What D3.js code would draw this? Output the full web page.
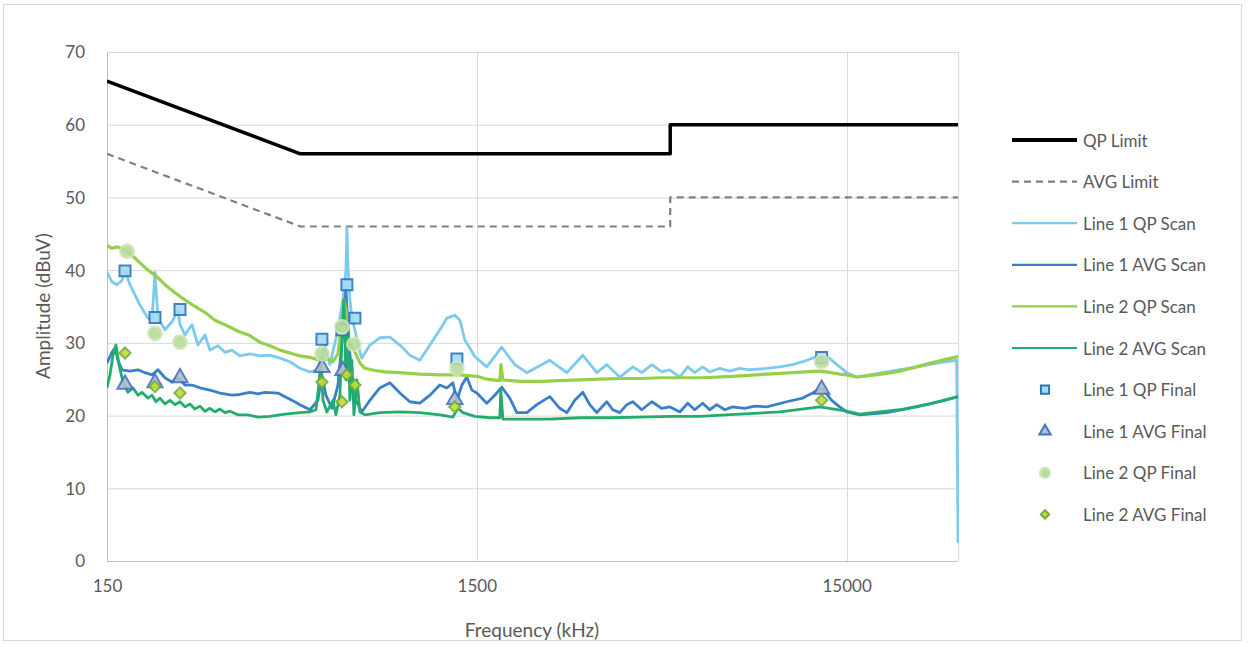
<!DOCTYPE html>
<html>
<head>
<meta charset="utf-8">
<script src="https://cdn.jsdelivr.net/npm/d3@7"></script>
<style>
  body { margin: 0; background: #fff; }
  text { font-family: Lato, "Open Sans", sans-serif; fill: #595959; }
</style>
</head>
<body>
<div id="chart"></div>
<script>
// frequency in kHz, amplitude in dBuV
var qpLimit = [[150, 66], [500, 56], [5000, 56], [5000, 60], [30000, 60]];
var avgLimit = [[150, 56], [500, 46], [5000, 46], [5000, 50], [30000, 50]];

var line1QpScan = [[150,39.7],[154.7,38.4],[159.6,38.0],[164.7,38.6],[167.8,40.0],[173,38.0],[184.2,35.2],[193.6,33.4],[198.5,33.1],[202.2,39.7],[206,33.4],[215.2,31.8],[224.8,32.9],[233.3,34.5],[236.3,32.5],[243.7,31.1],[254.6,32.5],[264.3,29.7],[276,31.1],[284.7,29.0],[299.3,29.6],[312.6,28.7],[326.5,29.0],[343.2,28.2],[365,28.5],[388.7,28.2],[413.6,28.3],[440.3,27.9],[468.6,27.4],[498.6,26.5],[530.7,26.0],[557.7,26.3],[582.6,29.7],[600.9,27.0],[631.7,31.8],[651.6,35.9],[663.9,40.0],[668,45.8],[672.2,40.7],[680.6,35.9],[689.1,33.4],[702.2,31.8],[715.4,29.7],[733,27.9],[770.7,29.7],[820,30.7],[873,30.8],[929,29.7],[988.8,28.3],[1052,27.6],[1120,29.7],[1191,31.8],[1245,33.4],[1308,33.8],[1350,33.1],[1392,30.4],[1436,29.3],[1482,28.1],[1596,26.7],[1752,29.4],[1900,27.0],[2048,25.9],[2363,27.6],[2627,25.9],[2901,28.3],[3165,25.9],[3369,27.0],[3652,25.3],[3962,26.7],[4188,25.9],[4458,27.0],[4743,26.0],[4986,26.3],[5306,25.3],[5577,26.7],[5824,25.9],[6121,26.7],[6393,26.0],[6806,26.5],[7243,26.1],[7707,26.5],[8202,26.3],[9118,26.5],[9885,26.7],[10719,27.0],[11694,27.6],[12444,28.1],[13450,27.9],[14361,26.7],[15000,25.9],[15960,25.3],[19245,26.0],[23190,26.7],[27615,27.4],[29750,27.6],[30000,2.5]];

var line1AvgScan = [[150,27.2],[154.7,28.7],[157.7,29.3],[160.6,27.6],[164.7,26.3],[173,26.1],[182,26.3],[190,25.9],[198.5,25.6],[206,26.3],[215.2,25.2],[224.8,24.6],[233.3,25.2],[243.7,24.2],[254.6,24.2],[267.6,23.8],[284.7,23.5],[303,23.1],[326.5,22.8],[343.2,22.9],[365,23.2],[383.9,23.0],[401,23.2],[434.9,23.1],[454.2,22.6],[474.3,22.1],[498.6,21.5],[530.7,20.8],[557.7,22.1],[571.8,25.6],[586,22.8],[608.6,21.0],[631.7,24.2],[651.6,31.8],[663.9,37.3],[676,30.4],[689.1,24.9],[706.5,22.1],[733,20.5],[770.7,22.1],[820,23.8],[873,24.5],[929,23.1],[988.8,21.9],[1052,21.7],[1120,22.8],[1191,24.2],[1245,23.8],[1292,24.5],[1325,22.1],[1367,24.2],[1409,25.3],[1454,23.5],[1500,23.1],[1596,21.7],[1677,22.8],[1752,23.9],[1842,22.4],[1924,20.4],[2048,20.4],[2179,21.5],[2363,22.6],[2514,21.0],[2627,20.4],[2760,22.1],[2901,23.2],[3030,21.5],[3165,20.4],[3369,21.9],[3497,20.8],[3652,20.4],[3816,21.5],[3962,21.9],[4188,20.8],[4458,21.9],[4743,21.0],[4986,21.2],[5306,20.5],[5577,21.7],[5824,20.8],[6121,21.7],[6393,20.8],[6680,21.5],[7021,20.8],[7380,21.2],[7952,21.0],[8463,21.3],[9118,21.2],[10325,21.9],[11406,22.4],[12138,23.1],[12837,23.8],[13665,22.1],[14361,21.2],[15000,20.5],[16260,20.1],[19245,20.4],[23190,21.2],[27615,22.1],[30000,22.6]];

var line2QpScan = [[150,43.4],[154.7,43.0],[160,43.2],[167.8,42.8],[176.4,41.9],[184.2,41.0],[193.6,40.0],[203.5,39.2],[215.2,38.0],[229,36.9],[243.7,35.9],[259.4,35.0],[276,34.2],[293.7,33.1],[312.6,32.5],[339,31.6],[365,31.0],[388.7,30.1],[413.6,29.6],[440.3,29.0],[468.6,28.6],[498.6,28.2],[530.7,28.0],[564.6,27.6],[593.6,27.8],[612.3,27.4],[631.7,28.5],[647.6,33.0],[655.6,36.0],[663.9,34.5],[672.2,30.0],[689.1,29.5],[706.5,28.5],[724.4,27.2],[747.3,26.5],[795,26.2],[846,26.0],[929,25.9],[1052,25.7],[1191,25.6],[1350,25.6],[1500,25.4],[1596,25.0],[1731,24.8],[1742,27.0],[1764,24.9],[1961,24.7],[2220,24.7],[2514,24.8],[2847,24.9],[3225,25.0],[3652,25.1],[4136,25.1],[4685,25.2],[5306,25.2],[6121,25.2],[7380,25.4],[9118,25.7],[10719,25.9],[12444,26.1],[13242,26.0],[14361,25.7],[15000,25.6],[15960,25.3],[17310,25.5],[19245,25.8],[20865,26.1],[23190,26.7],[25140,27.2],[27615,27.7],[30000,28.1]];

var line2AvgScan = [[150,23.8],[152.8,25.6],[155.7,28.3],[158.6,29.7],[161.6,27.0],[165.7,24.6],[170.9,23.2],[176.4,23.8],[182,22.8],[186.5,23.2],[193.6,22.4],[198.5,22.8],[203.5,21.9],[208.6,22.4],[215.2,21.6],[222,22.1],[229,21.5],[236.3,21.9],[243.7,21.2],[251.4,21.6],[259.4,20.9],[267.6,21.3],[276,20.6],[284.7,21.0],[293.7,20.5],[303,20.9],[312.6,20.4],[322.4,20.6],[339,20.1],[360.8,20.1],[383.9,19.8],[413.6,19.9],[454.2,20.2],[498.6,20.4],[530.7,20.5],[550.8,20.8],[561,24.2],[568,27.6],[575.4,22.1],[589.8,20.5],[612.3,22.1],[623.9,20.1],[639.6,22.8],[647.6,30.4],[655.6,35.9],[663.9,24.9],[672.2,31.8],[680.6,22.1],[689.1,27.6],[697.8,20.1],[711,24.9],[724.4,20.5],[747.3,20.1],[820,20.4],[929,20.5],[1052,20.4],[1191,20.1],[1292,19.8],[1333,21.0],[1375,20.4],[1482,19.9],[1626,19.7],[1731,19.7],[1742,23.5],[1764,19.5],[1961,19.5],[2363,19.5],[2847,19.7],[3432,19.7],[4136,19.8],[4986,19.9],[6009,19.9],[7707,20.2],[9885,20.5],[12680,21.2],[15000,20.6],[16260,20.2],[20865,20.8],[25140,21.6],[30000,22.6]];

var line1QpFinal = [[167.8,39.9],[202.2,33.5],[236.3,34.6],[571.8,30.5],[647.6,31.8],[668,38.0],[702.2,33.4],[1325,27.8],[12837,28.0]];
var line1AvgFinal = [[167.8,24.3],[202.2,24.5],[236.3,25.2],[571.8,26.6],[651.6,26.2],[1308,22.2],[12837,23.6]];
var line2QpFinal = [[169.9,42.6],[202.2,31.3],[236.3,30.1],[571.8,28.5],[647.6,32.2],[697.8,29.8],[1325,26.5],[12837,27.4]];
var line2AvgFinal = [[167.8,28.6],[202.2,24.0],[236.3,23.1],[571.8,24.6],[647.6,21.9],[668,25.6],[702.2,24.2],[1308,21.2],[12837,22.1]];

var yTicks = [0, 10, 20, 30, 40, 50, 60, 70];
var xTicks = [150, 1500, 15000];
var legendNames = ["QP Limit", "AVG Limit", "Line 1 QP Scan", "Line 1 AVG Scan", "Line 2 QP Scan", "Line 2 AVG Scan",
                   "Line 1 QP Final", "Line 1 AVG Final", "Line 2 QP Final", "Line 2 AVG Final"];

var W = 1249, H = 647;
var x = d3.scaleLog().domain([150, 30000]).range([107, 958]);
var y = d3.scaleLinear().domain([0, 70]).range([561, 52]);

var svg = d3.select("#chart").append("svg").attr("width", W).attr("height", H);

svg.append("rect").attr("x", 3.5).attr("y", 4.5).attr("width", 1238).attr("height", 636)
    .attr("fill", "#fff").attr("stroke", "#d9d9d9");

// grid
svg.append("g").selectAll("line").data(yTicks).enter().append("line")
    .attr("x1", 107).attr("x2", 958)
    .attr("y1", function(d){ return y(d) + 0.5; }).attr("y2", function(d){ return y(d) + 0.5; })
    .attr("stroke", "#d9d9d9");
svg.append("g").selectAll("line").data(xTicks.concat([30000])).enter().append("line")
    .attr("x1", function(d){ return Math.round(x(d)) + 0.5; }).attr("x2", function(d){ return Math.round(x(d)) + 0.5; })
    .attr("y1", 52).attr("y2", 561)
    .attr("stroke", "#d9d9d9");
svg.append("line").attr("x1", 107.5).attr("x2", 107.5).attr("y1", 52).attr("y2", 561).attr("stroke", "#bfbfbf");
svg.append("line").attr("x1", 107).attr("x2", 958).attr("y1", 561.5).attr("y2", 561.5).attr("stroke", "#bfbfbf");

// axes
var yAxis = svg.append("g").attr("transform", "translate(85,0)")
    .call(d3.axisLeft(y).tickValues(yTicks).tickSize(0).tickPadding(0));
var xAxis = svg.append("g").attr("transform", "translate(0,580)")
    .call(d3.axisBottom(x).tickValues(xTicks).tickSize(0).tickPadding(0).tickFormat(d3.format("d")));
[yAxis, xAxis].forEach(function(a){
    a.select(".domain").remove();
    a.selectAll("text").style("font-size", "17px").attr("fill", "#595959")
        .style("font-family", "Lato, 'Open Sans', sans-serif");
});
yAxis.selectAll("text").attr("dy", "0.35em");
xAxis.selectAll("text").attr("dy", "0.71em");

svg.append("text").attr("x", 532).attr("y", 629).attr("text-anchor", "middle")
    .attr("dominant-baseline", "central").style("font-size", "19px").text("Frequency (kHz)");
svg.append("text").attr("transform", "translate(42,306) rotate(-90)").attr("text-anchor", "middle")
    .attr("dominant-baseline", "central").style("font-size", "19px").text("Amplitude (dBuV)");

svg.append("clipPath").attr("id", "plotclip").append("rect")
    .attr("x", 107).attr("y", 40).attr("width", 852).attr("height", 530);

var line = d3.line().x(function(d){ return x(d[0]); }).y(function(d){ return y(d[1]); });
var plot = svg.append("g").attr("clip-path", "url(#plotclip)");

var scans = [
    {data: qpLimit, color: "#000000", width: 3.5, dash: null},
    {data: avgLimit, color: "#808080", width: 2.2, dash: "7,5"},
    {data: line1QpScan, color: "#7ccbee", width: 2.8, dash: null},
    {data: line1AvgScan, color: "#3a80c8", width: 2.8, dash: null},
    {data: line2QpScan, color: "#96d04a", width: 3.2, dash: null},
    {data: line2AvgScan, color: "#22ad6e", width: 2.8, dash: null}
];
scans.forEach(function(s){
    plot.append("path").datum(s.data).attr("d", line)
        .attr("fill", "none").attr("stroke", s.color).attr("stroke-width", s.width)
        .attr("stroke-linejoin", "round").attr("stroke-dasharray", s.dash);
});

var markers = [
    {data: line1QpFinal, type: d3.symbolSquare, size: 120, fill: "#a3daf5", stroke: "#2e75b6", sw: 2},
    {data: line1AvgFinal, type: d3.symbolTriangle, size: 100, fill: "#b4bccb", stroke: "#4472c4", sw: 2},
    {data: line2QpFinal, type: d3.symbolCircle, size: 150, fill: "#b8dc9a", stroke: "#cfe6bb", sw: 2},
    {data: line2AvgFinal, type: d3.symbolDiamond2, size: 80, fill: "#c8dc2c", stroke: "#70ad47", sw: 2}
];
markers.forEach(function(m){
    svg.append("g").selectAll("path").data(m.data).enter().append("path")
        .attr("d", d3.symbol().type(m.type).size(m.size))
        .attr("transform", function(d){ return "translate(" + x(d[0]) + "," + y(d[1]) + ")"; })
        .attr("fill", m.fill).attr("stroke", m.stroke).attr("stroke-width", m.sw).attr("opacity", 0.9);
});

// legend
var lg = svg.append("g");
legendNames.forEach(function(name, i){
    var ly = 140 + i * 41.6;
    if (i < 6) {
        var s = scans[i];
        lg.append("line").attr("x1", 1012).attr("x2", 1077).attr("y1", ly).attr("y2", ly)
            .attr("stroke", s.color).attr("stroke-width", i == 0 ? 4 : 2.2).attr("stroke-dasharray", s.dash);
    } else {
        var m = markers[i - 6];
        lg.append("path").attr("d", d3.symbol().type(m.type).size(m.size * 0.55))
            .attr("transform", "translate(1045," + ly + ")")
            .attr("fill", m.fill).attr("stroke", m.stroke).attr("stroke-width", 2);
    }
    lg.append("text").attr("x", 1083).attr("y", ly).attr("dominant-baseline", "central")
        .style("font-size", "17px").text(name);
});
</script>
</body>
</html>
